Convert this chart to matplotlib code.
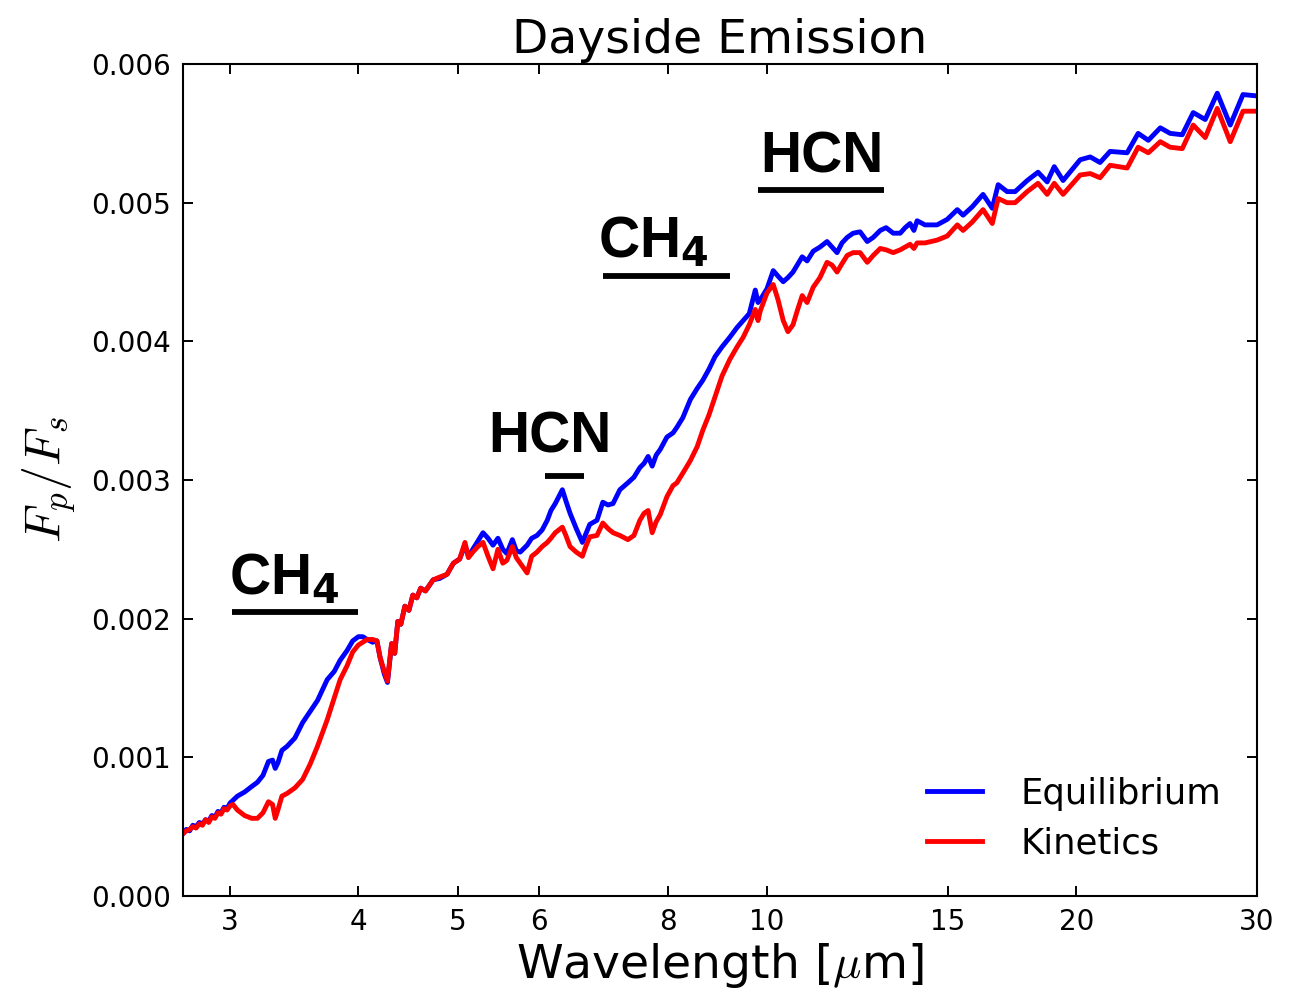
import matplotlib
matplotlib.use("Agg")
import matplotlib.pyplot as plt
from matplotlib.ticker import FixedLocator, FixedFormatter, FormatStrFormatter, NullLocator

plt.rcParams['mathtext.fontset'] = 'cm'
plt.rcParams['font.family'] = ['DejaVu Sans']

# wavelength grid [micron]
wavelength = [2.70, 2.72, 2.74, 2.76, 2.78, 2.80, 2.82, 2.84, 2.86, 2.88, 2.90, 2.92, 2.94, 2.96, 2.98,
              3.00, 3.02, 3.05, 3.10, 3.15, 3.19, 3.23, 3.27, 3.30, 3.32, 3.34, 3.37, 3.41, 3.47, 3.53,
              3.59, 3.65, 3.73, 3.79, 3.84, 3.90, 3.95, 4.00, 4.04, 4.08, 4.13, 4.17, 4.20, 4.24, 4.27,
              4.30, 4.31, 4.34, 4.37, 4.40, 4.44, 4.48, 4.52, 4.56, 4.60, 4.65, 4.73, 4.80, 4.88, 4.95,
              5.02, 5.08, 5.12, 5.17, 5.23, 5.29, 5.35, 5.41, 5.47, 5.53, 5.58, 5.65, 5.70, 5.75, 5.84,
              5.90, 5.97, 6.04, 6.11, 6.16, 6.22, 6.32, 6.37, 6.43, 6.52, 6.61, 6.66, 6.72, 6.83, 6.92,
              7.00, 7.08, 7.19, 7.32, 7.42, 7.52, 7.59, 7.66, 7.73, 7.80, 7.87, 7.99, 8.10, 8.17, 8.28,
              8.42, 8.55, 8.66, 8.78, 8.90, 9.04, 9.20, 9.35, 9.48, 9.61, 9.74, 9.80, 9.85, 10.00, 10.14,
              10.25, 10.37, 10.48, 10.60, 10.70, 10.82, 10.94, 11.09, 11.26, 11.44, 11.57, 11.70, 11.83, 11.97, 12.13,
              12.32, 12.52, 12.69, 12.89, 13.06, 13.27, 13.48, 13.63, 13.78, 13.90, 14.00, 14.25, 14.64, 14.98, 15.32,
              15.52, 15.84, 16.23, 16.57, 16.79, 17.13, 17.44, 17.92, 18.36, 18.74, 19.04, 19.42, 20.18, 20.64, 21.10,
              21.58, 22.42, 22.98, 23.51, 24.15, 24.69, 25.37, 26.00, 26.71, 27.44, 28.25, 29.07, 30.00]

# planet-to-star flux ratio, units of 1e-3
equilibrium = [0.45, 0.48, 0.47, 0.51, 0.50, 0.53, 0.52, 0.55, 0.54, 0.58, 0.57, 0.61, 0.60, 0.64, 0.63,
               0.67, 0.69, 0.72, 0.75, 0.79, 0.82, 0.87, 0.97, 0.98, 0.92, 0.96, 1.05, 1.08, 1.14, 1.25,
               1.33, 1.41, 1.56, 1.62, 1.70, 1.77, 1.84, 1.87, 1.87, 1.85, 1.83, 1.84, 1.72, 1.60, 1.54,
               1.75, 1.82, 1.75, 1.98, 1.96, 2.09, 2.06, 2.17, 2.15, 2.22, 2.20, 2.28, 2.29, 2.32, 2.40,
               2.43, 2.53, 2.45, 2.50, 2.56, 2.62, 2.58, 2.53, 2.58, 2.50, 2.47, 2.57, 2.49, 2.48, 2.53,
               2.58, 2.60, 2.64, 2.71, 2.78, 2.83, 2.93, 2.85, 2.76, 2.65, 2.55, 2.61, 2.68, 2.71, 2.84,
               2.82, 2.83, 2.93, 2.98, 3.02, 3.09, 3.12, 3.17, 3.10, 3.18, 3.22, 3.31, 3.34, 3.38, 3.45,
               3.58, 3.66, 3.72, 3.80, 3.89, 3.96, 4.03, 4.10, 4.15, 4.20, 4.37, 4.28, 4.30, 4.38, 4.51,
               4.47, 4.43, 4.46, 4.50, 4.55, 4.61, 4.58, 4.65, 4.68, 4.72, 4.68, 4.64, 4.71, 4.75, 4.78,
               4.79, 4.72, 4.75, 4.80, 4.82, 4.78, 4.78, 4.82, 4.85, 4.80, 4.87, 4.84, 4.84, 4.88, 4.95,
               4.91, 4.97, 5.06, 4.96, 5.13, 5.08, 5.08, 5.16, 5.22, 5.15, 5.26, 5.16, 5.31, 5.33, 5.29,
               5.37, 5.36, 5.50, 5.45, 5.54, 5.50, 5.49, 5.65, 5.60, 5.79, 5.56, 5.78, 5.77]

kinetics = [0.45, 0.47, 0.48, 0.50, 0.49, 0.52, 0.51, 0.55, 0.53, 0.57, 0.56, 0.60, 0.59, 0.63, 0.62,
            0.65, 0.66, 0.62, 0.58, 0.56, 0.56, 0.60, 0.68, 0.66, 0.56, 0.62, 0.72, 0.74, 0.78, 0.84,
            0.95, 1.08, 1.27, 1.43, 1.56, 1.66, 1.76, 1.81, 1.83, 1.85, 1.85, 1.84, 1.72, 1.62, 1.55,
            1.76, 1.82, 1.75, 1.98, 1.96, 2.09, 2.06, 2.17, 2.15, 2.22, 2.20, 2.28, 2.30, 2.32, 2.40,
            2.43, 2.55, 2.44, 2.48, 2.52, 2.55, 2.45, 2.36, 2.50, 2.40, 2.42, 2.52, 2.44, 2.40, 2.33,
            2.45, 2.48, 2.52, 2.55, 2.58, 2.62, 2.66, 2.60, 2.52, 2.48, 2.45, 2.52, 2.59, 2.60, 2.69,
            2.65, 2.62, 2.60, 2.57, 2.60, 2.71, 2.76, 2.78, 2.62, 2.70, 2.75, 2.88, 2.96, 2.98, 3.05,
            3.14, 3.24, 3.36, 3.47, 3.60, 3.75, 3.87, 3.96, 4.03, 4.12, 4.23, 4.15, 4.22, 4.35, 4.41,
            4.30, 4.15, 4.07, 4.12, 4.22, 4.33, 4.28, 4.39, 4.46, 4.57, 4.55, 4.50, 4.56, 4.62, 4.64,
            4.64, 4.57, 4.62, 4.67, 4.66, 4.64, 4.66, 4.68, 4.70, 4.67, 4.71, 4.71, 4.73, 4.76, 4.84,
            4.80, 4.86, 4.95, 4.85, 5.03, 5.00, 5.00, 5.08, 5.14, 5.06, 5.14, 5.06, 5.20, 5.21, 5.18,
            5.27, 5.25, 5.40, 5.36, 5.44, 5.40, 5.39, 5.56, 5.47, 5.68, 5.44, 5.66, 5.66]

# molecular feature annotations
feature_labels = [r'CH$_\mathbf{4}$', 'HCN', r'CH$_\mathbf{4}$', 'HCN']
feature_x0 = [3.01, 6.08, 6.92, 9.80]      # bar start [micron]
feature_x1 = [4.00, 6.63, 9.20, 13.0]      # bar end [micron]
feature_y = [2.05, 3.03, 4.47, 5.09]       # bar height (1e-3)
label_x = [2.99, 5.35, 6.85, 9.85]         # label left edge [micron]
label_y = [2.17, 3.20, 4.60, 5.22]         # label baseline (1e-3)

xticks = [3, 4, 5, 6, 8, 10, 15, 20, 30]
yticks = [0.000, 0.001, 0.002, 0.003, 0.004, 0.005, 0.006]

fig = plt.figure(figsize=(12.99, 9.93), dpi=100)
ax = fig.add_axes([0.1409, 0.0977, 0.8268, 0.8378])

eq = [v * 1e-3 for v in equilibrium]
kin = [v * 1e-3 for v in kinetics]
ax.plot(wavelength, eq, color='#0000ff', lw=3.5, label='Equilibrium', solid_joinstyle='round')
ax.plot(wavelength, kin, color='#ff0000', lw=3.5, label='Kinetics', solid_joinstyle='round')

for x0, x1, y in zip(feature_x0, feature_x1, feature_y):
    ax.plot([x0, x1], [y * 1e-3, y * 1e-3], color='black', lw=4.2, solid_capstyle='butt')
for lab, lx, ly in zip(feature_labels, label_x, label_y):
    ax.text(lx, ly * 1e-3, lab, ha='left', va='baseline',
            fontsize=41, fontweight='bold', family='Liberation Sans',
            math_fontfamily='dejavusans')

ax.set_xscale('log')
ax.set_xlim(2.70, 30.0)
ax.set_ylim(0.0, 0.006)
ax.xaxis.set_major_locator(FixedLocator(xticks))
ax.xaxis.set_major_formatter(FixedFormatter([str(t) for t in xticks]))
ax.xaxis.set_minor_locator(NullLocator())
ax.yaxis.set_major_locator(FixedLocator(yticks))
ax.yaxis.set_major_formatter(FormatStrFormatter('%.3f'))

ax.tick_params(axis='both', which='major', direction='in', top=True, right=True,
               length=7, width=1.4, labelsize=20, pad=9)
for s in ax.spines.values():
    s.set_linewidth(1.5)

ax.set_title('Dayside Emission', fontsize=34, pad=8)
ax.set_xlabel(r'Wavelength [$\mu$m]', fontsize=34, labelpad=3)
ax.set_ylabel(r'$F_p/F_s$', fontsize=36, labelpad=9)

leg = ax.legend(loc='lower right', frameon=False, fontsize=25.5, handlelength=1.55,
                handletextpad=1.1, labelspacing=0.45, borderaxespad=0.6)

fig.savefig('out.png', dpi=100)
